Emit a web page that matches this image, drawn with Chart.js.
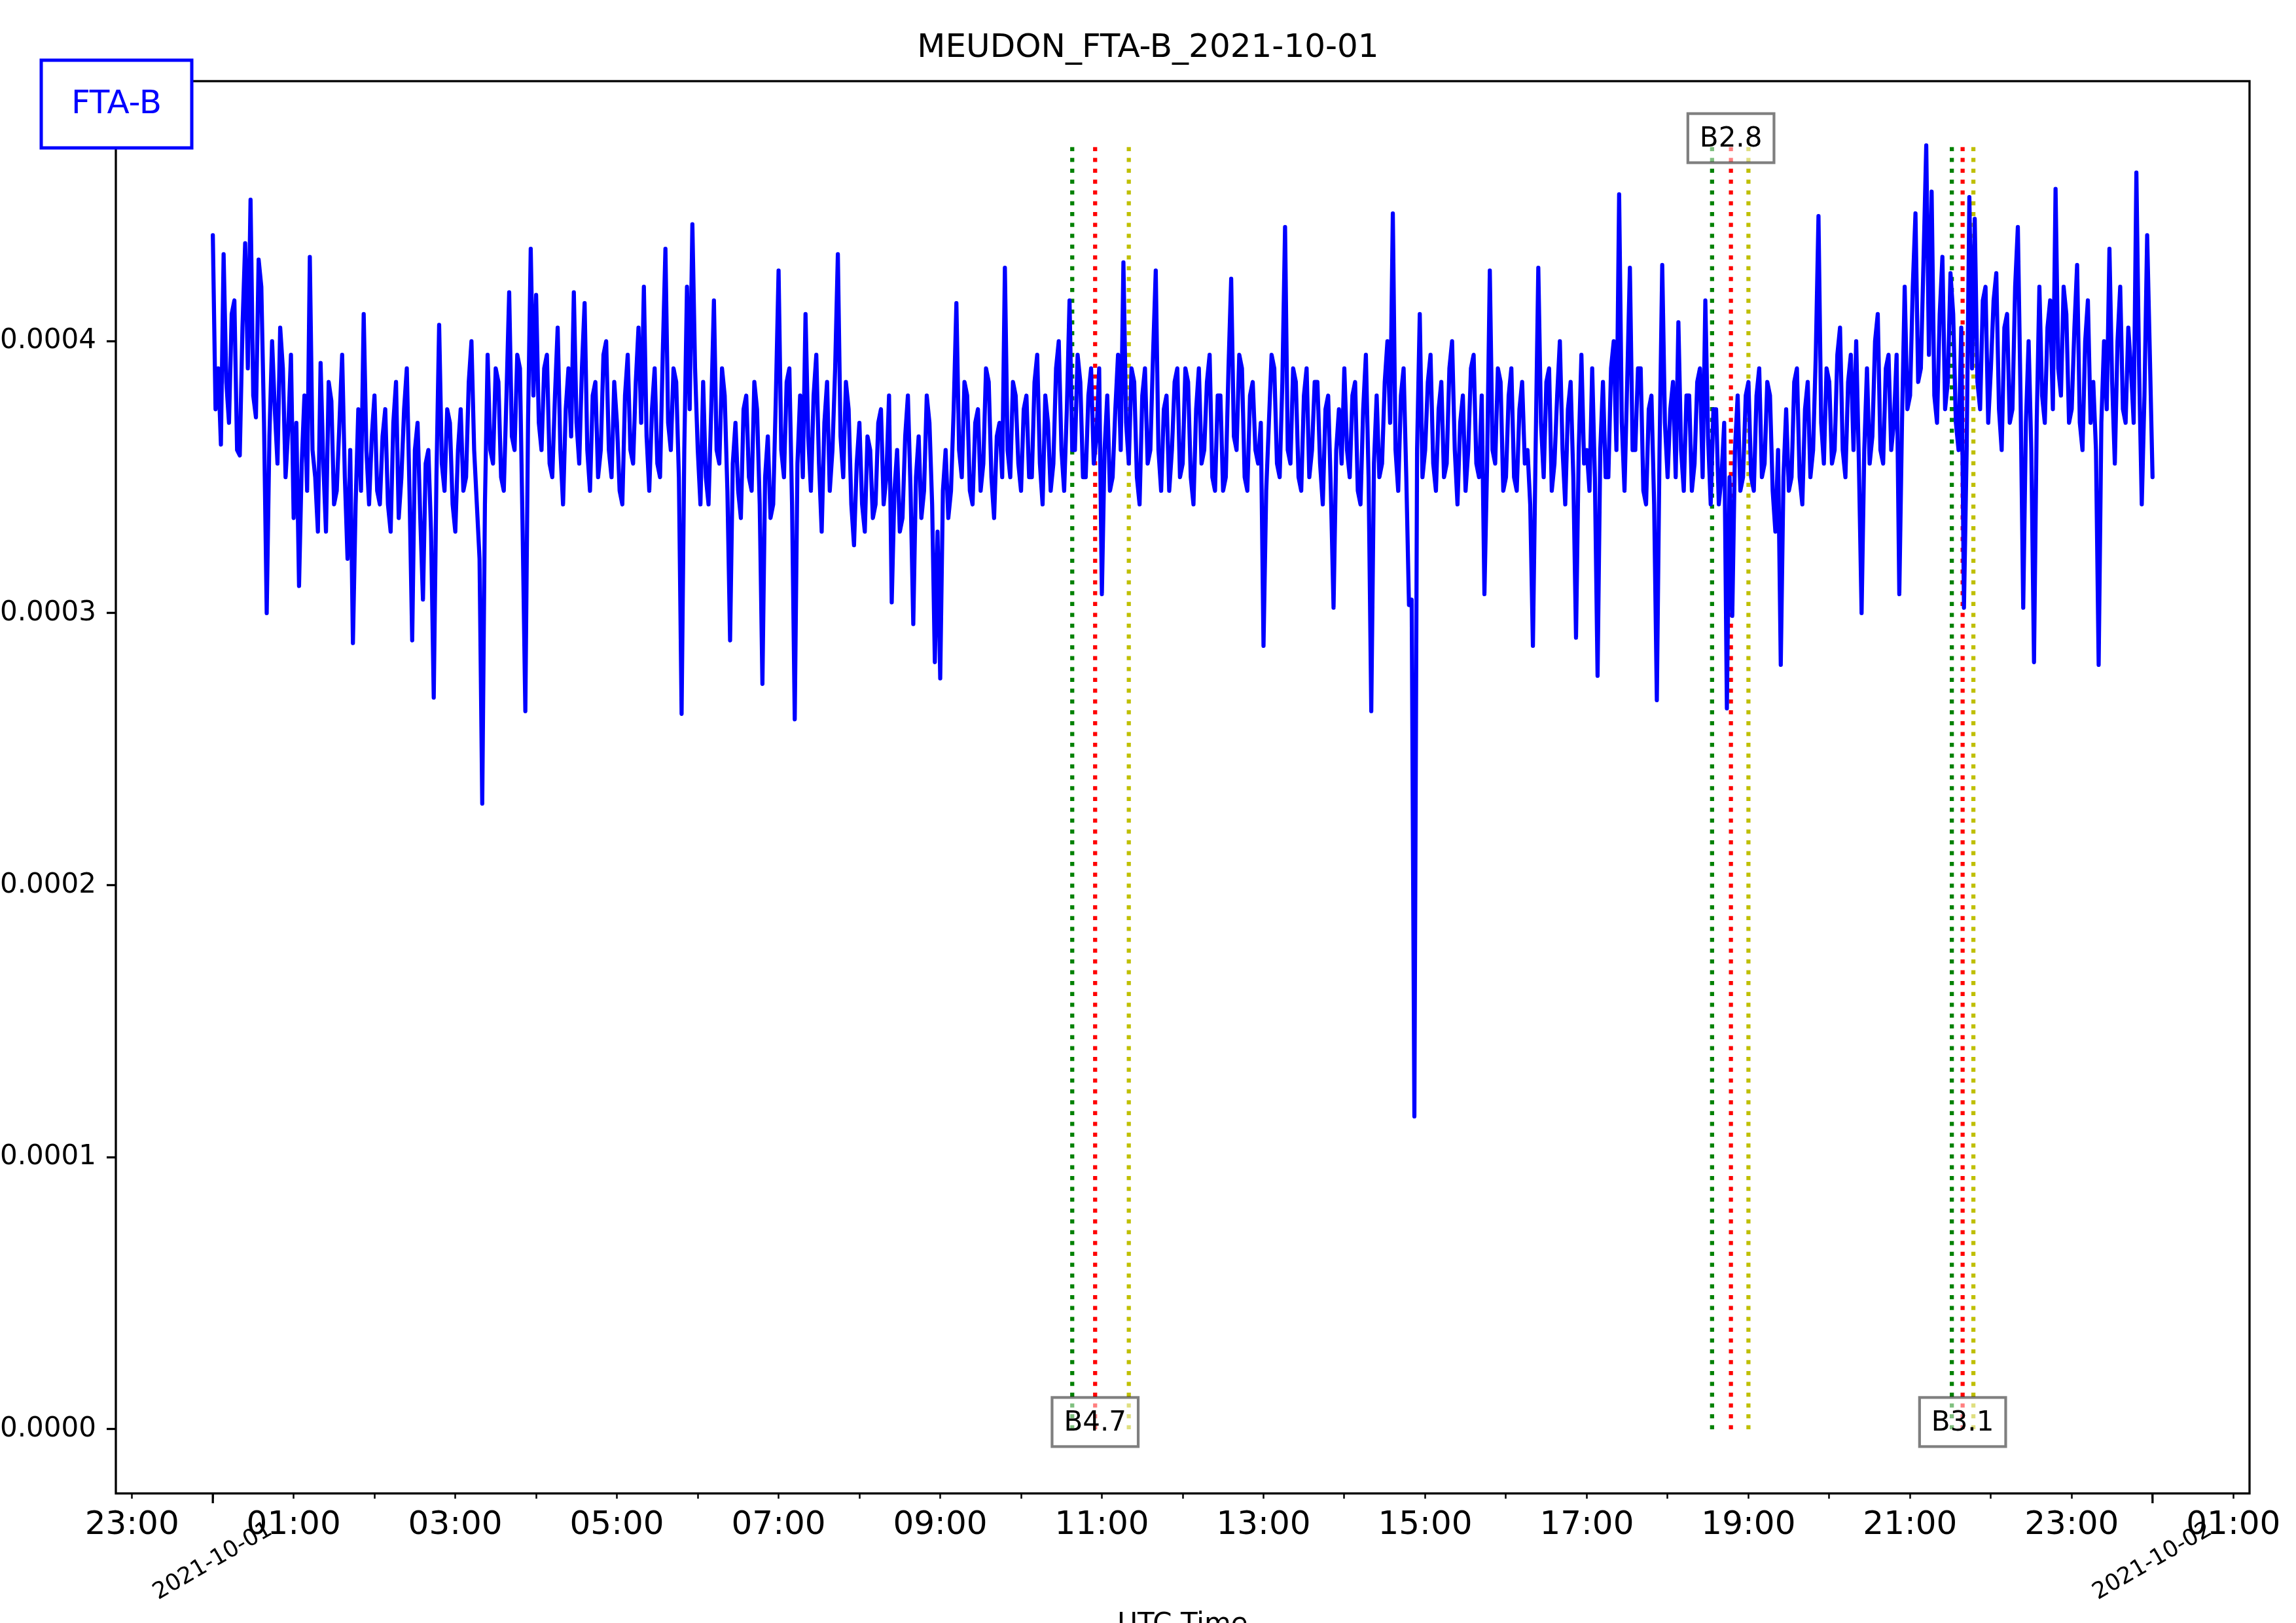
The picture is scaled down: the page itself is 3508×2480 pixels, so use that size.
<!DOCTYPE html>
<html>
<head>
<meta charset="utf-8">
<title>MEUDON_FTA-B_2021-10-01</title>
<script src="https://cdn.jsdelivr.net/npm/chart.js@4.4.1/dist/chart.umd.min.js"></script>
<style>
  html, body { margin: 0; padding: 0; background: #fff; }
  #wrap { width: 3508px; height: 2480px; }
</style>
</head>
<body>
<div id="wrap"><canvas id="chart" width="3508" height="2480"></canvas></div>
<script>
const chartTitle = "MEUDON_FTA-B_2021-10-01";
const stationLabel = "FTA-B";
const xAxisTitle = "UTC Time";
const startHour = 0;      // 2021-10-01 00:00 UTC
const stepMinutes = 2;    // one reading every 2 minutes

// amplitude, in units of 1e-4 (one row per hour)
const flux = [
  4.39, 3.75, 3.9, 3.62, 4.32, 3.85, 3.7, 4.1, 4.15, 3.6, 3.58, 4.05, 4.36, 3.9, 4.52, 3.8, 3.72, 4.3, 4.2, 3.7, 3.0, 3.65, 4.0, 3.75, 3.55, 4.05, 3.9, 3.5, 3.68, 3.95,
  3.35, 3.7, 3.1, 3.55, 3.8, 3.45, 4.31, 3.6, 3.5, 3.3, 3.92, 3.55, 3.3, 3.85, 3.78, 3.4, 3.45, 3.7, 3.95, 3.5, 3.2, 3.6, 2.89, 3.4, 3.75, 3.45, 4.1, 3.6, 3.4, 3.65,
  3.8, 3.45, 3.4, 3.65, 3.75, 3.4, 3.3, 3.7, 3.85, 3.35, 3.5, 3.75, 3.9, 3.45, 2.9, 3.6, 3.7, 3.35, 3.05, 3.55, 3.6, 3.3, 2.69, 3.5, 4.06, 3.55, 3.45, 3.75, 3.7, 3.4,
  3.3, 3.6, 3.75, 3.45, 3.5, 3.85, 4.0, 3.6, 3.4, 3.2, 2.30, 3.4, 3.95, 3.6, 3.55, 3.9, 3.85, 3.5, 3.45, 3.8, 4.18, 3.65, 3.6, 3.95, 3.9, 3.3, 2.64, 3.7, 4.34, 3.8,
  4.17, 3.7, 3.6, 3.9, 3.95, 3.55, 3.5, 3.8, 4.05, 3.6, 3.4, 3.75, 3.9, 3.65, 4.18, 3.7, 3.55, 3.9, 4.14, 3.6, 3.45, 3.8, 3.85, 3.5, 3.6, 3.95, 4.0, 3.6, 3.5, 3.85,
  3.7, 3.45, 3.4, 3.8, 3.95, 3.6, 3.55, 3.85, 4.05, 3.7, 4.2, 3.65, 3.45, 3.75, 3.9, 3.55, 3.5, 3.95, 4.34, 3.7, 3.6, 3.9, 3.85, 3.5, 2.63, 3.6, 4.2, 3.75, 4.43, 3.9,
  3.6, 3.4, 3.85, 3.5, 3.4, 3.75, 4.15, 3.6, 3.55, 3.9, 3.8, 3.45, 2.9, 3.55, 3.7, 3.45, 3.35, 3.75, 3.8, 3.5, 3.45, 3.85, 3.75, 3.4, 2.74, 3.5, 3.65, 3.35, 3.4, 3.8,
  4.26, 3.6, 3.5, 3.85, 3.9, 3.4, 2.61, 3.55, 3.8, 3.5, 4.1, 3.65, 3.45, 3.8, 3.95, 3.55, 3.3, 3.7, 3.85, 3.45, 3.6, 3.9, 4.32, 3.65, 3.5, 3.85, 3.75, 3.4, 3.25, 3.55,
  3.7, 3.4, 3.3, 3.65, 3.6, 3.35, 3.4, 3.7, 3.75, 3.4, 3.5, 3.8, 3.04, 3.45, 3.6, 3.3, 3.35, 3.65, 3.8, 3.45, 2.96, 3.5, 3.65, 3.35, 3.45, 3.8, 3.7, 3.4, 2.82, 3.3,
  2.76, 3.45, 3.6, 3.35, 3.45, 3.75, 4.14, 3.6, 3.5, 3.85, 3.8, 3.45, 3.4, 3.7, 3.75, 3.45, 3.55, 3.9, 3.85, 3.5, 3.35, 3.65, 3.7, 3.5, 4.27, 3.6, 3.5, 3.85, 3.8, 3.55,
  3.45, 3.75, 3.8, 3.5, 3.5, 3.85, 3.95, 3.55, 3.4, 3.8, 3.7, 3.45, 3.55, 3.9, 4.0, 3.6, 3.45, 3.75, 4.15, 3.6, 3.6, 3.95, 3.85, 3.5, 3.5, 3.8, 3.9, 3.55, 3.65, 3.9,
  3.07, 3.6, 3.8, 3.45, 3.5, 3.75, 3.95, 3.6, 4.29, 3.7, 3.55, 3.9, 3.85, 3.5, 3.4, 3.8, 3.9, 3.55, 3.6, 3.95, 4.26, 3.6, 3.45, 3.75, 3.8, 3.45, 3.6, 3.85, 3.9, 3.5,
  3.55, 3.9, 3.85, 3.5, 3.4, 3.75, 3.9, 3.55, 3.6, 3.85, 3.95, 3.5, 3.45, 3.8, 3.8, 3.45, 3.5, 3.9, 4.23, 3.65, 3.6, 3.95, 3.9, 3.5, 3.45, 3.8, 3.85, 3.6, 3.55, 3.7,
  2.88, 3.45, 3.7, 3.95, 3.9, 3.55, 3.5, 3.85, 4.42, 3.6, 3.55, 3.9, 3.85, 3.5, 3.45, 3.8, 3.9, 3.5, 3.6, 3.85, 3.85, 3.55, 3.4, 3.75, 3.8, 3.45, 3.02, 3.6, 3.75, 3.55,
  3.9, 3.6, 3.5, 3.8, 3.85, 3.45, 3.4, 3.75, 3.95, 3.5, 2.64, 3.55, 3.8, 3.5, 3.55, 3.85, 4.0, 3.7, 4.47, 3.6, 3.45, 3.8, 3.9, 3.5, 3.03, 3.05, 1.15, 3.6, 4.1, 3.5,
  3.6, 3.85, 3.95, 3.55, 3.45, 3.75, 3.85, 3.5, 3.55, 3.9, 4.0, 3.6, 3.4, 3.7, 3.8, 3.45, 3.6, 3.9, 3.95, 3.55, 3.5, 3.8, 3.07, 3.55, 4.26, 3.6, 3.55, 3.9, 3.85, 3.45,
  3.5, 3.8, 3.9, 3.5, 3.45, 3.75, 3.85, 3.55, 3.6, 3.4, 2.88, 3.6, 4.27, 3.7, 3.5, 3.85, 3.9, 3.45, 3.55, 3.8, 4.0, 3.6, 3.4, 3.75, 3.85, 3.5, 2.91, 3.6, 3.95, 3.55,
  3.6, 3.45, 3.9, 3.5, 2.77, 3.6, 3.85, 3.5, 3.5, 3.9, 4.0, 3.6, 4.54, 3.7, 3.45, 3.85, 4.27, 3.6, 3.6, 3.9, 3.9, 3.45, 3.4, 3.75, 3.8, 3.4, 2.68, 3.6, 4.28, 3.7,
  3.5, 3.75, 3.85, 3.5, 4.07, 3.6, 3.45, 3.8, 3.8, 3.45, 3.55, 3.85, 3.9, 3.5, 4.15, 3.65, 3.4, 3.75, 3.75, 3.4, 3.5, 3.7, 2.65, 3.5, 2.99, 3.6, 3.8, 3.45, 3.5, 3.8,
  3.85, 3.5, 3.45, 3.8, 3.9, 3.5, 3.55, 3.85, 3.8, 3.45, 3.3, 3.6, 2.81, 3.5, 3.75, 3.45, 3.5, 3.85, 3.9, 3.5, 3.4, 3.75, 3.85, 3.5, 3.6, 3.95, 4.46, 3.7, 3.55, 3.9,
  3.85, 3.55, 3.6, 3.95, 4.05, 3.6, 3.5, 3.85, 3.95, 3.6, 4.0, 3.55, 3.0, 3.6, 3.9, 3.55, 3.65, 4.0, 4.1, 3.6, 3.55, 3.9, 3.95, 3.6, 3.7, 3.95, 3.07, 3.7, 4.2, 3.75,
  3.8, 4.2, 4.47, 3.85, 3.9, 4.3, 4.72, 3.95, 4.55, 3.8, 3.7, 4.1, 4.31, 3.75, 3.85, 4.25, 4.1, 3.7, 3.6, 4.05, 3.02, 3.6, 4.53, 3.9, 4.45, 3.85, 3.75, 4.15, 4.2, 3.7,
  3.9, 4.15, 4.25, 3.75, 3.6, 4.05, 4.1, 3.7, 3.75, 4.2, 4.42, 3.8, 3.02, 3.7, 4.0, 3.6, 2.82, 3.7, 4.2, 3.8, 3.7, 4.05, 4.15, 3.75, 4.56, 3.9, 3.8, 4.2, 4.1, 3.7,
  3.75, 4.05, 4.28, 3.7, 3.6, 4.0, 4.15, 3.7, 3.85, 3.6, 2.81, 3.7, 4.0, 3.75, 4.34, 3.85, 3.55, 4.0, 4.2, 3.75, 3.7, 4.05, 3.9, 3.7, 4.62, 3.9, 3.4, 3.8, 4.39, 3.95,
  3.5
];

const yTicks = [0, 0.0001, 0.0002, 0.0003, 0.0004];
const xTickHours = [-1, 0, 1, 2, 3, 4, 5, 6, 7, 8, 9, 10, 11, 12, 13,
                    14, 15, 16, 17, 18, 19, 20, 21, 22, 23, 24, 25];
const dayHours = [0, 24];
const dayLabels = ["2021-10-01", "2021-10-02"];

// GOES flare events: start / peak / end
const flareClass = ["B4.7", "B2.8", "B3.1"];
const flareStart = ["10:38", "18:33", "21:31"];
const flarePeak = ["10:55", "18:47", "21:39"];
const flareEnd = ["11:20", "19:00", "21:47"];
const flareLabelAt = ["bottom", "top", "bottom"];

const FONT = "'DejaVu Sans'";

function toHours(hhmm) {
  const [h, m] = hhmm.split(":").map(Number);
  return h + m / 60;
}

const points = flux.map((v, i) => ({ x: startHour + i * stepMinutes / 60, y: v * 1e-4 }));
const vTop = Math.max(...flux) * 1e-4;

const datasets = [{
  label: stationLabel,
  data: points,
  borderColor: "#0000ff",
  borderWidth: 6.25,
  pointRadius: 0,
  borderJoinStyle: "round",
  borderCapStyle: "round",
  order: 0
}];

const markerColors = ["#008000", "#ff0000", "#bfbf00"];
flareClass.forEach((name, k) => {
  [flareStart[k], flarePeak[k], flareEnd[k]].forEach((t, j) => {
    datasets.push({
      label: name,
      data: [{ x: toHours(t), y: 0 }, { x: toHours(t), y: vTop }],
      borderColor: markerColors[j],
      borderWidth: 6.25,
      borderDash: [6.25, 10.3],
      pointRadius: 0,
      order: 1
    });
  });
});

const decorations = {
  id: "decorations",
  afterDatasetsDraw(chart) {
    const { ctx, scales: { x, y } } = chart;
    ctx.save();
    ctx.font = `42px ${FONT}`;
    ctx.textAlign = "center";
    ctx.textBaseline = "alphabetic";
    flareClass.forEach((name, k) => {
      const px = x.getPixelForValue(toHours(flarePeak[k]));
      const base = flareLabelAt[k] === "top" ? y.getPixelForValue(vTop) : y.getPixelForValue(0);
      const cy = base - 11;
      const w = ctx.measureText(name).width + 36;
      const h = 75;
      ctx.fillStyle = "rgba(255,255,255,0.5)";
      ctx.fillRect(px - w / 2, cy - h / 2, w, h);
      ctx.strokeStyle = "rgba(0,0,0,0.5)";
      ctx.lineWidth = 4.2;
      ctx.strokeRect(px - w / 2, cy - h / 2, w, h);
      ctx.fillStyle = "#000";
      ctx.fillText(name, px, cy + 13);
    });
    ctx.restore();
  },
  afterDraw(chart) {
    const { ctx, chartArea: a, scales: { x } } = chart;
    ctx.save();
    // figure title, centred on the whole figure
    ctx.fillStyle = "#000";
    ctx.font = `50px ${FONT}`;
    ctx.textAlign = "center";
    ctx.textBaseline = "alphabetic";
    ctx.fillText(chartTitle, chart.width / 2, 87);

    // axes frame
    ctx.strokeStyle = "#000";
    ctx.lineWidth = 3.3;
    ctx.strokeRect(a.left, a.top, a.right - a.left, a.bottom - a.top);

    // midnight ticks (longer) and rotated date labels
    dayHours.forEach((hr, k) => {
      const px = x.getPixelForValue(hr);
      ctx.beginPath();
      ctx.moveTo(px, a.bottom);
      ctx.lineTo(px, a.bottom + 15);
      ctx.stroke();
      ctx.save();
      ctx.translate(px, a.bottom + 104);
      ctx.rotate(-Math.PI / 6);
      ctx.font = `35px ${FONT}`;
      ctx.fillStyle = "#000";
      ctx.textAlign = "center";
      ctx.textBaseline = "middle";
      ctx.fillText(dayLabels[k], 0, 0);
      ctx.restore();
    });

    // station name box
    const bx = a.left - 114, by = a.top - 32, bw = 230, bh = 134;
    ctx.fillStyle = "#fff";
    ctx.fillRect(bx, by, bw, bh);
    ctx.strokeStyle = "#0000ff";
    ctx.lineWidth = 5;
    ctx.strokeRect(bx, by, bw, bh);
    ctx.fillStyle = "#0000ff";
    ctx.font = `50px ${FONT}`;
    ctx.textAlign = "center";
    ctx.textBaseline = "alphabetic";
    ctx.fillText(stationLabel, bx + bw / 2, by + 81);
    ctx.restore();
  }
};

new Chart(document.getElementById("chart"), {
  type: "line",
  data: { datasets },
  options: {
    responsive: false,
    devicePixelRatio: 1,
    animation: false,
    layout: { padding: { left: 0, right: 71, top: 124, bottom: 0 } },
    plugins: {
      legend: { display: false },
      tooltip: { enabled: false },
      title: { display: false }
    },
    scales: {
      x: {
        type: "linear",
        min: -1.2,
        max: 25.2,
        afterBuildTicks: (scale) => { scale.ticks = xTickHours.map(v => ({ value: v })); },
        afterFit: (scale) => { scale.height = 198; },
        grid: { drawOnChartArea: false, drawTicks: true, tickLength: 8, tickWidth: 2.5, tickColor: "#000" },
        border: { display: false },
        ticks: {
          autoSkip: false,
          maxRotation: 0,
          minRotation: 0,
          padding: 11,
          color: "#000",
          font: { family: "DejaVu Sans", size: 50 },
          callback: (value) => {
            const h = ((value % 24) + 24) % 24;
            return h % 2 === 1 ? String(h).padStart(2, "0") + ":00" : "";
          }
        },
        title: {
          display: true,
          text: xAxisTitle,
          color: "#000",
          font: { family: "DejaVu Sans", size: 42 },
          padding: { top: -28, bottom: -28 }
        }
      },
      y: {
        type: "linear",
        min: -0.05 * vTop,
        max: 1.05 * vTop,
        afterBuildTicks: (scale) => { scale.ticks = yTicks.map(v => ({ value: v })); },
        afterFit: (scale) => { scale.width = 177; },
        grid: { drawOnChartArea: false, drawTicks: true, tickLength: 14, tickWidth: 3.3, tickColor: "#000" },
        border: { display: false },
        ticks: {
          padding: 16,
          color: "#000",
          font: { family: "DejaVu Sans", size: 42 },
          callback: (value) => value.toFixed(4)
        }
      }
    }
  },
  plugins: [decorations]
});
</script>
</body>
</html>
